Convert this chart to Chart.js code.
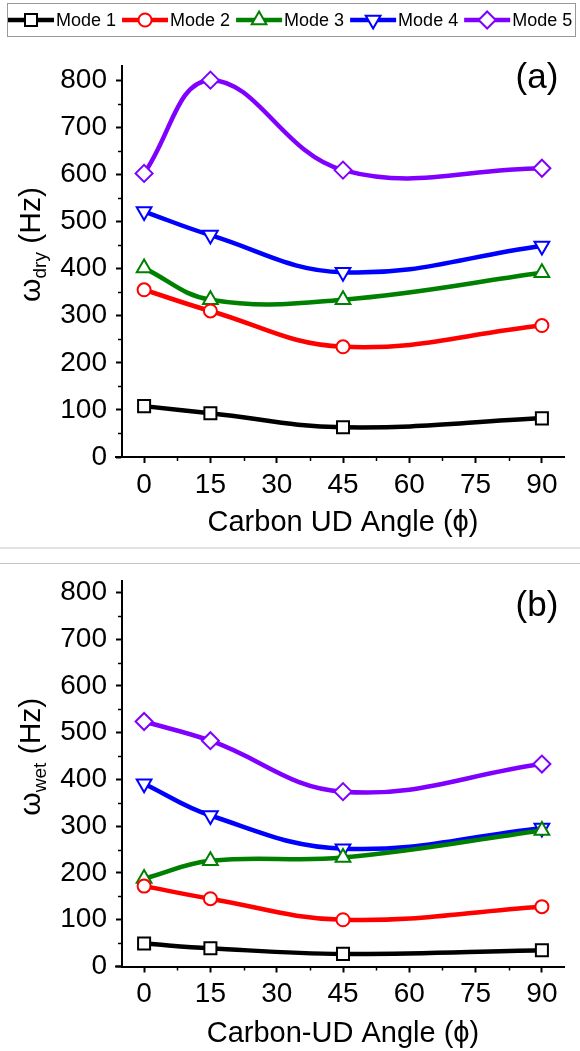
<!DOCTYPE html>
<html>
<head>
<meta charset="utf-8">
<script src="https://cdn.jsdelivr.net/npm/chart.js@4.4.0/dist/chart.umd.min.js"></script>
<style>
  html, body { margin: 0; padding: 0; background: #fff; }
  #page { position: relative; width: 580px; height: 1051px; overflow: hidden; background: #fff; }
  .panel { position: absolute; left: 0; width: 580px; }
  #wrap-a { top: 0; height: 548px; }
  #wrap-b { top: 555px; height: 496px; }
  .sep { position: absolute; left: 0; width: 580px; }
</style>
</head>
<body>
<div id="page">
  <div class="sep" style="top:547px;height:2px;background:#e2e2e2"></div>
  <div class="sep" style="top:563px;height:1px;background:#c4c4c4"></div>
  <div class="panel" id="wrap-a"><canvas id="chart-a"></canvas></div>
  <div class="panel" id="wrap-b"><canvas id="chart-b"></canvas></div>
</div>
<script>
// --- data ---
const angles = [0, 15, 45, 90];
const modeNames = ['Mode 1', 'Mode 2', 'Mode 3', 'Mode 4', 'Mode 5'];

// (a) dry
const dryMode1 = [108, 93, 63, 82];
const dryMode2 = [355, 310, 234, 279];
const dryMode3 = [401, 334, 334, 391];
const dryMode4 = [521, 471, 392, 448];
const dryMode5 = [602, 800, 609, 613];

// (b) wet
const wetMode1 = [49, 39, 27, 35];
const wetMode2 = [172, 145, 100, 128];
const wetMode3 = [188, 226, 233, 291];
const wetMode4 = [391, 323, 252, 296];
const wetMode5 = [524, 483, 374, 433];

// axis ticks
const xTicks = [0, 15, 30, 45, 60, 75, 90];
const xMinor = [7.5, 22.5, 37.5, 52.5, 67.5, 82.5];
const yTicks = [0, 100, 200, 300, 400, 500, 600, 700, 800];
const yMinor = [50, 150, 250, 350, 450, 550, 650, 750];

// styling
const modeColors = ['#000000', '#ff0000', '#008000', '#0000ff', '#8000ff'];
const modeMarkers = ['rect', 'circle', 'triangle', 'triangle', 'rectRot'];
const markerRotation = [0, 0, 0, 180, 0];
const markerRadius = [8.5, 6.5, 8.5, 8.5, 8.5];

const FAMILY = '"Liberation Sans", Arial, sans-serif';

function buildDatasets(seriesList) {
    return seriesList.map((vals, i) => ({
        label: modeNames[i],
        data: angles.map((a, j) => ({ x: a, y: vals[j] })),
        borderColor: modeColors[i],
        backgroundColor: '#fff',
        borderWidth: 4.5,
        tension: 0.4,
        pointStyle: modeMarkers[i],
        pointRotation: markerRotation[i],
        pointRadius: markerRadius[i],
        pointHoverRadius: markerRadius[i],
        pointBorderWidth: 2,
        pointBackgroundColor: '#fff',
        pointBorderColor: modeColors[i],
        fill: false,
        clip: false
    }));
}

function marker(ctx, style, rotation, radius, x, y) {
    if (Chart.helpers && Chart.helpers.drawPoint) {
        Chart.helpers.drawPoint(ctx, { pointStyle: style, rotation: rotation, radius: radius, borderWidth: 2 }, x, y);
        return;
    }
    ctx.beginPath();
    ctx.arc(x, y, radius, 0, Math.PI * 2);
    ctx.fill();
    ctx.stroke();
}

// axis decorations, y title with subscript, panel label and legend
const panelDecor = {
    id: 'panelDecor',
    afterDraw(chart, args, opts) {
        const ctx = chart.ctx;
        const area = chart.chartArea;
        const xs = chart.scales.x;
        const ys = chart.scales.y;
        ctx.save();
        ctx.strokeStyle = '#000';

        // x axis runs a little past the y axis on the left
        ctx.lineWidth = 2;
        ctx.beginPath();
        ctx.moveTo(area.left - 7, area.bottom);
        ctx.lineTo(area.left, area.bottom);
        ctx.stroke();

        // minor ticks
        ctx.lineWidth = 1.5;
        xMinor.forEach(v => {
            const px = Math.round(xs.getPixelForValue(v)) + 0.5;
            ctx.beginPath();
            ctx.moveTo(px, area.bottom);
            ctx.lineTo(px, area.bottom + 4);
            ctx.stroke();
        });
        yMinor.forEach(v => {
            const py = Math.round(ys.getPixelForValue(v)) + 0.5;
            ctx.beginPath();
            ctx.moveTo(area.left, py);
            ctx.lineTo(area.left - 4, py);
            ctx.stroke();
        });

        // y title: omega with subscript
        const big = '30px ' + FAMILY;
        const small = '19px ' + FAMILY;
        ctx.fillStyle = '#000';
        ctx.translate(29, (area.top + area.bottom) / 2 + opts.yTitleShift);
        ctx.rotate(-Math.PI / 2);
        ctx.textBaseline = 'alphabetic';
        ctx.textAlign = 'left';
        ctx.font = big;
        const w1 = ctx.measureText('ω').width;
        const w3 = ctx.measureText(' (Hz)').width;
        ctx.font = small;
        const w2 = ctx.measureText(opts.sub).width;
        let tx = -(w1 + w2 + w3) / 2;
        ctx.font = big;
        ctx.fillText('ω', tx, 11);
        tx += w1;
        ctx.font = small;
        ctx.fillText(opts.sub, tx, 17);
        tx += w2;
        ctx.font = big;
        ctx.fillText(' (Hz)', tx, 11);
        ctx.restore();

        // panel label
        ctx.save();
        ctx.fillStyle = '#000';
        ctx.font = '35px ' + FAMILY;
        ctx.textAlign = 'center';
        ctx.textBaseline = 'middle';
        ctx.fillText(opts.label, 537, opts.labelY);
        ctx.restore();

        if (opts.legend) {
            ctx.save();
            ctx.strokeStyle = '#999';
            ctx.lineWidth = 1;
            ctx.strokeRect(7.5, 3.5, 568, 33);
            ctx.font = '18px ' + FAMILY;
            ctx.textBaseline = 'middle';
            ctx.textAlign = 'left';
            let cx = 8;
            const cy = 20;
            chart.data.datasets.forEach(ds => {
                ctx.strokeStyle = ds.borderColor;
                ctx.lineWidth = 4.5;
                ctx.beginPath();
                ctx.moveTo(cx, cy);
                ctx.lineTo(cx + 46, cy);
                ctx.stroke();
                ctx.fillStyle = '#fff';
                ctx.lineWidth = 2;
                marker(ctx, ds.pointStyle, ds.pointRotation, ds.pointRadius, cx + 23, cy);
                ctx.fillStyle = '#000';
                ctx.fillText(ds.label, cx + 48, cy + 1);
                cx += 48 + ctx.measureText(ds.label).width + 6;
            });
            ctx.restore();
        }
    }
};

function makePanel(id, seriesList, cfg) {
    const tickFont = { family: FAMILY, size: 28 };
    return new Chart(document.getElementById(id), {
        type: 'line',
        data: { datasets: buildDatasets(seriesList) },
        options: {
            responsive: true,
            maintainAspectRatio: false,
            animation: false,
            events: [],
            layout: { padding: { top: cfg.padTop, right: 16, left: 0, bottom: 0 } },
            plugins: {
                legend: { display: false },
                tooltip: { enabled: false },
                panelDecor: cfg
            },
            scales: {
                x: {
                    type: 'linear',
                    min: -5,
                    max: 95,
                    afterBuildTicks: s => { s.ticks = xTicks.map(v => ({ value: v })); },
                    afterFit: s => { s.height = cfg.xHeight; },
                    grid: { display: true, drawOnChartArea: false, drawTicks: true, tickLength: 6, tickWidth: 2, tickColor: '#000' },
                    border: { display: true, color: '#000', width: 2 },
                    ticks: { font: tickFont, color: '#000', padding: 5, maxRotation: 0, autoSkip: false },
                    title: {
                        display: true,
                        text: cfg.xTitle,
                        color: '#000',
                        font: { family: FAMILY, size: 29 },
                        padding: { top: 0, bottom: cfg.xTitlePad }
                    }
                },
                y: {
                    type: 'linear',
                    min: 0,
                    max: cfg.yMax,
                    afterBuildTicks: s => { s.ticks = yTicks.map(v => ({ value: v })); },
                    afterFit: s => { s.width = 122; },
                    grid: { display: true, drawOnChartArea: false, drawTicks: true, tickLength: 6, tickWidth: 2, tickColor: '#000' },
                    border: { display: true, color: '#000', width: 2 },
                    ticks: { font: tickFont, color: '#000', padding: 9 },
                    title: { display: false }
                }
            }
        },
        plugins: [panelDecor]
    });
}

makePanel('chart-a', [dryMode1, dryMode2, dryMode3, dryMode4, dryMode5], {
    padTop: 66, xHeight: 91, yMax: 830,
    xTitle: 'Carbon UD Angle (ϕ)', xTitlePad: 8,
    sub: 'dry', yTitleShift: -17,
    label: '(a)', labelY: 78, legend: true
});

makePanel('chart-b', [wetMode1, wetMode2, wetMode3, wetMode4, wetMode5], {
    padTop: 22, xHeight: 84.5, yMax: 825,
    xTitle: 'Carbon-UD Angle (ϕ)', xTitlePad: 0,
    sub: 'wet', yTitleShift: -17,
    label: '(b)', labelY: 51, legend: false
});
</script>
</body>
</html>
